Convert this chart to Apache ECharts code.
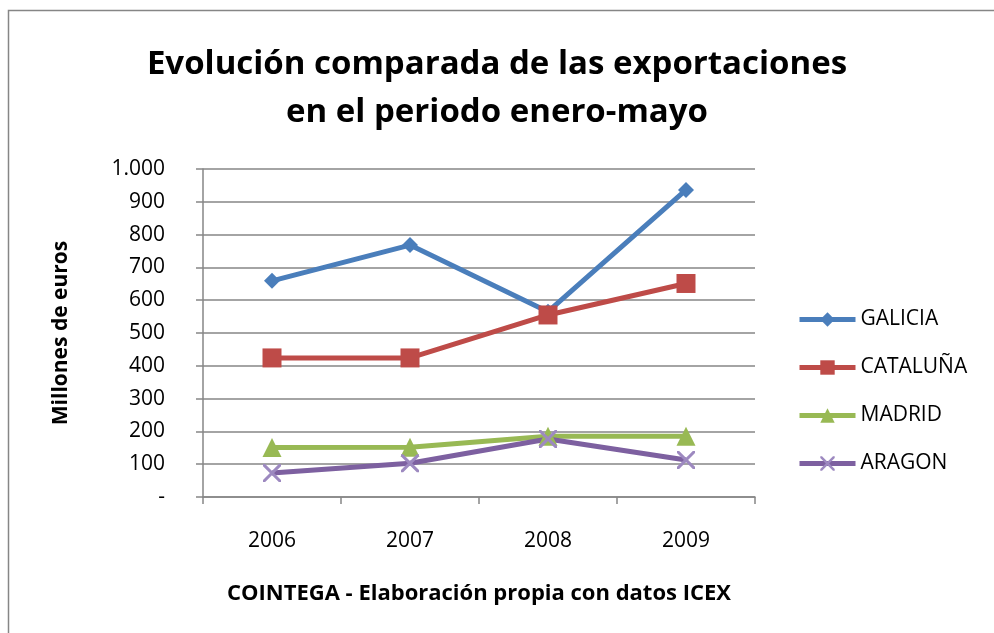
<!DOCTYPE html>
<html><head><meta charset="utf-8">
<script src="https://cdn.jsdelivr.net/npm/echarts@6/dist/echarts.min.js"></script>
<style>html,body{margin:0;padding:0;background:#fff}#c{width:994px;height:633px}</style>
</head><body><div id="c"></div>
<script>
const years = ['2006','2007','2008','2009'];
const galicia = [659, 768, 565, 936];
const cataluna = [424, 424, 555, 651];
const madrid = [151, 152, 185, 185];
const aragon = [73, 103, 177, 113];
const seriesNames = ['GALICIA','CATALUÑA','MADRID','ARAGON'];
const titleText = 'Evolución comparada de las exportaciones\nen el periodo enero-mayo';
const yName = 'Millones de euros';
const xName = 'COINTEGA - Elaboración propia con datos ICEX';

const FONT = '"Open Sans", "Liberation Sans", sans-serif';
const crossPath = 'path://M0,0L1.2,0L10,8.8L10,10L8.8,10L0,1.2ZM8.8,0L10,0L10,1.2L1.2,10L0,10L0,8.8Z';
const chart = echarts.init(document.getElementById('c'), null, {renderer:'canvas'});
function mk(name, data, color, symbol, size, symColor){
  return {name, type:'line', data, symbol, symbolSize:size,
    lineStyle:{color, width:5}, itemStyle:{color: symColor||color},
    emphasis:{disabled:true}, z: 2};
}
chart.setOption({
  animation:false,
  title:{text:titleText, left:'center', top:36, itemGap:0,
    textStyle:{fontFamily:FONT, fontSize:33, fontWeight:'bold', color:'#000', lineHeight:48}},
  graphic:[{type:'rect', shape:{x:8.5,y:10.5,width:1000,height:700},
    style:{fill:null, stroke:'#868686', lineWidth:1.5}, silent:true}],
  grid:{left:203, right:239, top:169, bottom:136, containLabel:false},
  legend:{orient:'vertical', left:792, top:304, itemWidth:56, itemHeight:18, itemGap:27,
    lineStyle:{width:5},
    textStyle:{fontFamily:FONT, fontSize:21, color:'#000', lineHeight:21},
    data:seriesNames},
  xAxis:{type:'category', data:years, boundaryGap:true,
    axisLine:{lineStyle:{color:'#868686', width:1.5}},
    axisTick:{show:true, length:7, lineStyle:{color:'#868686', width:1.5}},
    axisLabel:{fontFamily:FONT, fontSize:21, color:'#000', margin:34},
    name:xName, nameLocation:'middle', nameGap:86,
    nameTextStyle:{fontFamily:FONT, fontSize:22, fontWeight:'bold', color:'#000'}},
  yAxis:{type:'value', min:0, max:1000, interval:100,
    axisLine:{show:true, lineStyle:{color:'#868686', width:1.5}},
    axisTick:{show:true, length:7, lineStyle:{color:'#868686', width:1.5}},
    splitLine:{lineStyle:{color:'#868686', width:1.5}},
    axisLabel:{fontFamily:FONT, fontSize:21, color:'#000', margin:38,
      formatter:v => v===0 ? '-' : (v>=1000 ? '1.000' : String(v))},
    name:yName, nameLocation:'middle', nameGap:131, nameRotate:90,
    nameTextStyle:{fontFamily:FONT, fontSize:21, fontWeight:'bold', color:'#000'}},
  series:[
    mk(seriesNames[0], galicia, '#4A7EBB', 'diamond', 16),
    mk(seriesNames[1], cataluna, '#BE4B48', 'rect', 19),
    mk(seriesNames[2], madrid, '#98B954', 'triangle', 19),
    mk(seriesNames[3], aragon, '#7D60A0', crossPath, 18, '#9D89C0')
  ]
});
</script></body></html>
